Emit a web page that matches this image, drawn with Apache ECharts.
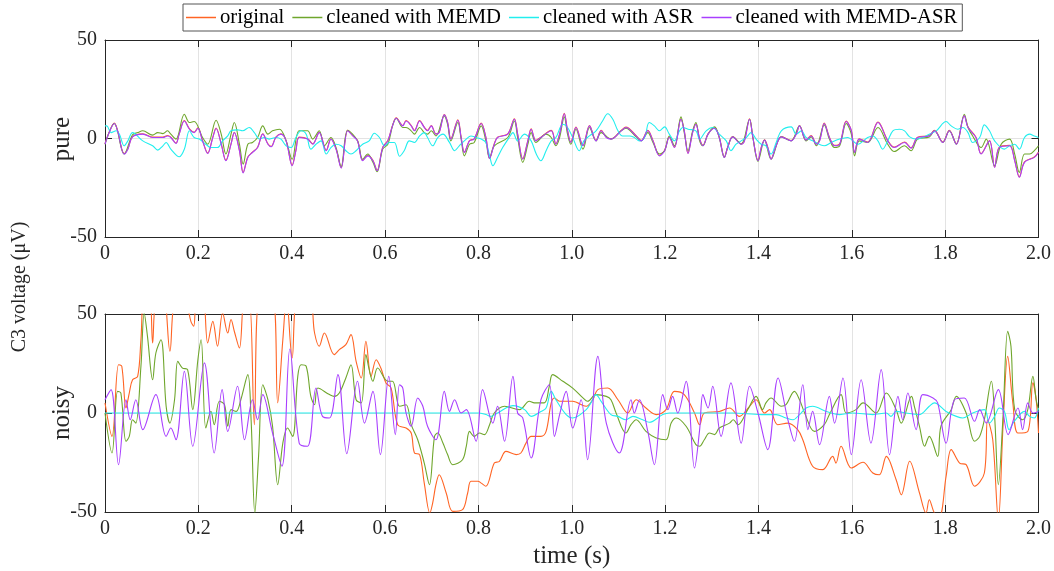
<!DOCTYPE html>
<html>
<head>
<meta charset="utf-8">
<script src="https://cdn.jsdelivr.net/npm/echarts@6/dist/echarts.min.js"></script>
<style>html,body{margin:0;padding:0;background:#fff}#c{width:1054px;height:571px}</style>
</head>
<body>
<div id="c"></div>
<script>
const seriesNames = ['original', 'cleaned with MEMD', 'cleaned with ASR', 'cleaned with MEMD-ASR'];
const panelNames = ['pure', 'noisy'];
const xTicks = [0, 0.2, 0.4, 0.6, 0.8, 1.0, 1.2, 1.4, 1.6, 1.8, 2.0];
const yTicks = [-50, 0, 50];

// ---------- pure (top) ----------
const pureMemdAsr = [[0,-2.9],[0.009,3.0],[0.020,7.6],[0.027,3.9],[0.041,-7.9],[0.049,-5.4],[0.059,0.8],[0.081,2.2],[0.102,0.5],[0.124,0.5],[0.134,1.3],[0.141,0.5],[0.152,-2.5],[0.159,2.2],[0.170,8.9],[0.181,4.7],[0.191,3.0],[0.199,5.2],[0.209,-1.2],[0.220,-7.6],[0.231,0.5],[0.238,5.1],[0.249,-2.9],[0.259,-11.3],[0.270,-2.9],[0.277,3.0],[0.288,-6.2],[0.296,-17.5],[0.306,-9.6],[0.316,-7.1],[0.327,-4.6],[0.338,2.2],[0.349,-2.9],[0.356,-4.2],[0.366,0.5],[0.377,2.2],[0.388,-1.2],[0.401,-13.8],[0.409,-6.2],[0.416,0.5],[0.434,-0.3],[0.445,-2.9],[0.459,3.0],[0.474,-6.2],[0.484,-0.3],[0.495,-5.4],[0.506,-15.0],[0.520,3.9],[0.531,1.3],[0.541,-1.2],[0.552,-11.3],[0.563,-8.8],[0.574,-11.3],[0.583,-16.4],[0.595,-4.6],[0.606,-1.2],[0.616,6.4],[0.624,10.3],[0.638,6.4],[0.645,8.9],[0.656,6.4],[0.663,3.9],[0.674,8.9],[0.684,5.6],[0.691,3.9],[0.699,6.4],[0.709,2.2],[0.716,3.0],[0.727,12.0],[0.734,8.1],[0.741,-0.3],[0.756,9.3],[0.763,0.5],[0.770,-7.1],[0.781,-1.2],[0.791,-0.3],[0.806,7.6],[0.816,0.5],[0.824,-10.1],[0.834,-2.9],[0.841,0.5],[0.863,2.2],[0.877,9.8],[0.884,2.2],[0.895,-10.5],[0.906,-1.2],[0.913,4.7],[0.923,-1.2],[0.934,0.5],[0.956,3.9],[0.966,-2.9],[0.974,2.2],[0.984,12.6],[0.991,3.9],[0.998,-2.0],[1.009,5.6],[1.024,-3.7],[1.038,6.4],[1.052,-1.2],[1.063,3.9],[1.074,0.5],[1.084,-0.3],[1.106,3.9],[1.116,5.6],[1.138,1.3],[1.149,-1.2],[1.163,3.9],[1.174,-1.2],[1.188,-8.8],[1.199,-6.2],[1.209,0.5],[1.220,-4.6],[1.234,9.8],[1.241,3.9],[1.249,-7.6],[1.259,3.0],[1.266,7.2],[1.274,-0.3],[1.281,-3.7],[1.292,2.2],[1.306,5.2],[1.316,0.5],[1.327,-9.6],[1.334,-4.6],[1.345,0.8],[1.363,-2.9],[1.370,-1.2],[1.381,9.8],[1.388,0.5],[1.399,-11.3],[1.406,-4.6],[1.413,-0.8],[1.420,-4.6],[1.427,-10.5],[1.438,-3.7],[1.449,0.8],[1.470,-1.2],[1.481,2.2],[1.488,6.4],[1.502,-0.8],[1.513,1.3],[1.524,-2.9],[1.531,-1.2],[1.541,7.6],[1.552,0.5],[1.563,-3.7],[1.574,-2.9],[1.588,8.6],[1.599,3.9],[1.606,-7.1],[1.616,-0.3],[1.634,-2.0],[1.656,8.1],[1.677,-1.2],[1.691,-4.6],[1.713,-2.0],[1.727,-4.9],[1.741,0.5],[1.766,1.3],[1.777,3.9],[1.795,-2.0],[1.809,3.9],[1.824,-2.9],[1.841,11.5],[1.849,5.6],[1.866,0.5],[1.877,-7.9],[1.895,-1.2],[1.906,-14.7],[1.916,-4.6],[1.938,-3.7],[1.949,-11.3],[1.959,-19.7],[1.970,-12.1],[1.991,-9.6],[2.0,-7.1]];

const pureOriginal = [[0,-2.6],[0.009,3.2],[0.020,7.8],[0.027,4.0],[0.041,-7.6],[0.049,-5.2],[0.059,1.0],[0.081,2.4],[0.102,0.7],[0.124,0.7],[0.134,1.5],[0.141,0.7],[0.152,-2.3],[0.159,2.4],[0.170,9.1],[0.181,4.9],[0.191,3.2],[0.199,5.4],[0.209,-1.0],[0.220,-7.4],[0.231,0.7],[0.238,5.3],[0.249,-2.7],[0.259,-11.0],[0.270,-2.7],[0.277,3.2],[0.288,-6.0],[0.296,-17.2],[0.306,-9.4],[0.316,-6.9],[0.327,-4.4],[0.338,2.4],[0.349,-2.7],[0.356,-4.0],[0.366,0.7],[0.377,2.4],[0.388,-1.0],[0.401,-13.5],[0.409,-6.0],[0.416,0.7],[0.434,-0.1],[0.445,-2.7],[0.459,3.2],[0.474,-6.0],[0.484,-0.1],[0.495,-5.2],[0.506,-14.8],[0.520,4.1],[0.531,1.5],[0.541,-1.0],[0.552,-11.0],[0.563,-8.6],[0.574,-11.0],[0.583,-16.2],[0.595,-4.4],[0.606,-1.0],[0.616,6.6],[0.624,10.5],[0.638,6.6],[0.645,9.1],[0.656,6.6],[0.663,4.1],[0.674,9.1],[0.684,5.8],[0.691,4.1],[0.699,6.6],[0.709,2.4],[0.716,3.2],[0.727,12.2],[0.734,8.3],[0.741,-0.1],[0.756,9.5],[0.763,0.7],[0.770,-6.9],[0.781,-1.0],[0.791,-0.1],[0.806,7.8],[0.816,0.7],[0.824,-9.9],[0.834,-2.7],[0.841,0.7],[0.863,2.4],[0.877,10.0],[0.884,2.4],[0.895,-10.3],[0.906,-1.0],[0.913,4.9],[0.923,-1.0],[0.934,0.7],[0.956,4.1],[0.966,-2.7],[0.974,2.4],[0.984,12.8],[0.991,4.1],[0.998,-1.8],[1.009,5.8],[1.024,-3.5],[1.038,6.6],[1.052,-1.0],[1.063,4.1],[1.074,0.7],[1.084,-0.1],[1.106,4.1],[1.116,5.8],[1.138,1.5],[1.149,-1.0],[1.163,4.1],[1.174,-1.0],[1.188,-8.6],[1.199,-6.0],[1.209,0.7],[1.220,-4.4],[1.234,10.0],[1.241,4.1],[1.249,-7.4],[1.259,3.2],[1.266,7.4],[1.274,-0.1],[1.281,-3.5],[1.292,2.4],[1.306,5.4],[1.316,0.7],[1.327,-9.4],[1.334,-4.4],[1.345,1.0],[1.363,-2.7],[1.370,-1.0],[1.381,10.0],[1.388,0.7],[1.399,-11.1],[1.406,-4.4],[1.413,-0.6],[1.420,-4.4],[1.427,-10.3],[1.438,-3.5],[1.449,1.0],[1.470,-1.0],[1.481,2.4],[1.488,6.6],[1.502,-0.6],[1.513,1.5],[1.524,-2.7],[1.531,-1.0],[1.541,7.8],[1.552,0.7],[1.563,-3.5],[1.574,-2.7],[1.588,8.8],[1.599,4.1],[1.606,-6.9],[1.616,-0.1],[1.634,-1.8],[1.656,8.3],[1.677,-1.0],[1.691,-4.4],[1.713,-1.8],[1.727,-4.7],[1.741,0.7],[1.766,1.5],[1.777,4.1],[1.795,-1.8],[1.809,4.1],[1.824,-2.7],[1.841,11.7],[1.849,5.8],[1.866,0.7],[1.877,-7.7],[1.895,-1.0],[1.906,-14.5],[1.916,-4.4],[1.938,-3.5],[1.949,-11.1],[1.959,-19.5],[1.970,-11.9],[1.991,-9.4],[2.0,-6.9]];

const pureMemd = [[0,-2.9],[0.020,7.6],[0.041,-7.9],[0.059,1.9],[0.070,3.0],[0.081,3.9],[0.102,1.7],[0.113,3.0],[0.124,2.5],[0.134,3.9],[0.141,2.2],[0.152,-0.3],[0.170,12.3],[0.181,8.1],[0.191,8.6],[0.209,0.5],[0.220,-2.9],[0.238,9.3],[0.249,2.2],[0.259,-7.9],[0.270,2.2],[0.277,8.1],[0.288,-2.9],[0.296,-13.0],[0.306,-2.9],[0.316,-2.0],[0.327,0.5],[0.338,6.4],[0.349,2.2],[0.359,3.9],[0.374,4.7],[0.388,-1.2],[0.401,-10.5],[0.416,3.9],[0.434,3.9],[0.445,-0.3],[0.459,3.9],[0.470,-3.7],[0.484,0.5],[0.495,-4.6],[0.506,-14.3],[0.520,4.2],[0.541,-1.2],[0.552,-10.5],[0.563,-7.9],[0.574,-12.1],[0.583,-16.9],[0.595,-5.4],[0.606,-2.9],[0.616,6.4],[0.624,10.3],[0.638,5.6],[0.645,5.6],[0.656,3.9],[0.663,2.2],[0.674,5.6],[0.684,3.0],[0.691,2.2],[0.699,3.9],[0.709,1.3],[0.727,11.5],[0.734,7.2],[0.741,-1.2],[0.756,8.1],[0.763,-0.3],[0.770,-8.8],[0.781,-2.9],[0.791,-2.0],[0.806,6.4],[0.816,-1.2],[0.824,-10.1],[0.834,-3.7],[0.863,0.5],[0.877,8.9],[0.884,0.5],[0.895,-12.1],[0.906,-2.9],[0.913,3.0],[0.923,-2.0],[0.945,2.2],[0.956,0.5],[0.966,-3.7],[0.974,0.5],[0.984,11.0],[0.991,2.2],[0.998,-2.9],[1.009,4.7],[1.024,-5.4],[1.038,5.6],[1.052,-1.2],[1.063,3.0],[1.084,-0.3],[1.106,3.9],[1.116,5.2],[1.138,0.8],[1.149,-1.2],[1.163,3.0],[1.174,-2.0],[1.188,-7.9],[1.199,-6.2],[1.209,1.3],[1.220,-3.7],[1.234,11.0],[1.241,3.0],[1.249,-6.2],[1.259,3.9],[1.266,8.1],[1.274,-1.2],[1.281,-3.7],[1.292,2.2],[1.306,5.9],[1.316,0.5],[1.327,-9.6],[1.334,-4.6],[1.345,0.8],[1.363,-2.9],[1.381,9.8],[1.388,0.5],[1.399,-11.6],[1.413,-0.8],[1.427,-10.5],[1.449,0.8],[1.470,-1.2],[1.488,6.4],[1.502,-1.2],[1.513,0.8],[1.524,-3.7],[1.541,6.9],[1.552,-0.3],[1.563,-4.6],[1.574,-3.7],[1.588,7.6],[1.599,2.2],[1.606,-8.8],[1.616,-1.2],[1.634,-2.0],[1.656,5.6],[1.677,-2.9],[1.691,-6.6],[1.713,-3.7],[1.727,-6.2],[1.741,-0.3],[1.766,0.8],[1.777,3.9],[1.795,-2.0],[1.809,3.9],[1.824,-2.9],[1.841,12.3],[1.849,5.6],[1.859,1.3],[1.877,-4.6],[1.888,-0.3],[1.906,-13.8],[1.920,-2.9],[1.938,-0.3],[1.949,-7.9],[1.959,-17.2],[1.970,-7.9],[1.981,-7.9],[1.991,-6.2],[2.0,-3.7]];

const pureAsr = [[0,6.4],[0.004,6.4],[0.013,3.0],[0.024,3.9],[0.031,2.2],[0.041,-3.7],[0.049,-1.2],[0.059,3.0],[0.081,-1.2],[0.102,-3.7],[0.113,-5.9],[0.124,-3.7],[0.131,-2.0],[0.141,-5.4],[0.159,-9.3],[0.170,-5.4],[0.181,3.9],[0.191,0.5],[0.202,-0.3],[0.216,-2.9],[0.227,-4.6],[0.241,-4.6],[0.252,-1.2],[0.263,1.3],[0.270,3.9],[0.284,4.4],[0.295,3.9],[0.309,5.6],[0.320,3.0],[0.331,-0.3],[0.341,0.5],[0.352,-0.3],[0.366,0.5],[0.377,-0.3],[0.388,-3.7],[0.399,-4.6],[0.409,0.5],[0.420,3.9],[0.431,2.2],[0.441,-5.4],[0.452,-2.9],[0.463,-1.2],[0.474,-7.9],[0.484,-4.6],[0.495,-2.9],[0.506,-3.7],[0.516,-6.2],[0.527,-7.9],[0.538,-6.2],[0.552,-2.9],[0.566,-1.2],[0.577,2.7],[0.588,0.5],[0.599,-3.7],[0.609,-2.0],[0.620,-2.0],[0.631,-9.0],[0.641,-6.2],[0.652,-1.2],[0.663,-2.0],[0.674,1.3],[0.684,3.0],[0.691,0.5],[0.702,-3.7],[0.713,0.5],[0.724,2.2],[0.738,-2.0],[0.749,-6.2],[0.759,-3.7],[0.774,-0.3],[0.784,1.3],[0.795,0.5],[0.806,-0.3],[0.816,-2.0],[0.824,-8.8],[0.831,-13.8],[0.841,-9.6],[0.852,-4.6],[0.866,0.5],[0.874,3.0],[0.884,-1.2],[0.899,2.2],[0.913,-1.2],[0.924,-7.9],[0.934,-11.3],[0.945,-6.2],[0.956,-1.2],[0.966,0.5],[0.981,7.2],[0.991,5.6],[1.002,0.5],[1.016,-6.2],[1.026,-1.2],[1.038,1.3],[1.052,3.9],[1.066,8.9],[1.077,12.6],[1.088,9.8],[1.099,3.9],[1.109,1.3],[1.124,1.3],[1.134,0.5],[1.145,-1.2],[1.156,0.5],[1.166,8.1],[1.177,6.4],[1.188,3.9],[1.199,5.9],[1.209,2.2],[1.220,-1.2],[1.231,3.9],[1.238,5.6],[1.249,4.7],[1.266,3.9],[1.274,-0.3],[1.288,3.9],[1.302,5.6],[1.316,2.2],[1.331,-1.2],[1.341,-6.2],[1.352,-2.9],[1.363,-1.2],[1.374,0.5],[1.384,3.0],[1.395,-0.3],[1.406,-2.9],[1.416,-3.7],[1.427,-7.9],[1.438,-2.0],[1.449,3.9],[1.470,5.9],[1.481,2.2],[1.492,3.9],[1.502,0.5],[1.516,-1.2],[1.541,-3.7],[1.556,-2.0],[1.574,-0.3],[1.591,0.5],[1.613,-2.9],[1.634,0.5],[1.645,1.3],[1.656,-1.2],[1.666,-5.4],[1.677,-1.2],[1.688,3.9],[1.702,4.7],[1.713,3.9],[1.724,0.8],[1.738,-0.3],[1.752,0.5],[1.766,2.2],[1.781,3.9],[1.802,8.6],[1.813,6.4],[1.827,4.7],[1.838,5.6],[1.849,3.0],[1.859,-2.0],[1.874,0.5],[1.884,6.9],[1.895,3.9],[1.906,-1.2],[1.927,-5.4],[1.938,-3.7],[1.949,-2.9],[1.959,-5.4],[1.970,0.5],[1.981,2.2],[1.991,1.3],[2.0,0.5]];

// ---------- noisy (bottom) ----------
const noisyOriginal = [[0,5.1],[0.015,-11.8],[0.029,24.4],[0.036,23.6],[0.045,2.5],[0.052,10.1],[0.059,16.8],[0.070,18.5],[0.077,37.0],[0.084,60],[0.095,60],[0.102,35.4],[0.109,58],[0.124,62],[0.139,31.2],[0.149,58],[0.166,62],[0.184,46.3],[0.190,43.8],[0.196,58],[0.209,62],[0.220,35.4],[0.231,46.3],[0.241,33.7],[0.252,50.5],[0.263,40.4],[0.270,47.2],[0.277,41.3],[0.288,32.8],[0.299,58],[0.309,58],[0.320,-5.9],[0.331,58],[0.359,58],[0.370,5.1],[0.381,37],[0.389,58],[0.401,27.8],[0.413,58],[0.438,58],[0.449,40.4],[0.459,33.7],[0.470,40.4],[0.491,29.5],[0.502,32],[0.516,34.5],[0.527,39.6],[0.538,26.1],[0.549,17.7],[0.559,36.2],[0.570,18.5],[0.581,26.9],[0.591,22.7],[0.602,15.2],[0.613,12.6],[0.627,-5.9],[0.645,-7.6],[0.656,-10.1],[0.663,-20.2],[0.674,-21.0],[0.684,-35.4],[0.696,-50.5],[0.702,-45.5],[0.709,-36.2],[0.716,-31.2],[0.731,-40.4],[0.745,-49.7],[0.766,-48.8],[0.777,-40.4],[0.784,-34.5],[0.799,-34.5],[0.806,-35.4],[0.816,-37.0],[0.834,-25.3],[0.845,-24.4],[0.859,-19.4],[0.881,-21.0],[0.891,-20.2],[0.902,-15.2],[0.913,-11.8],[0.934,-11.8],[0.945,-9.3],[0.956,5.1],[0.963,7.6],[0.974,5.9],[1.002,5.9],[1.031,3.4],[1.045,6.7],[1.056,11.8],[1.077,12.6],[1.099,6.7],[1.120,0],[1.138,6.7],[1.159,2.5],[1.181,-0.8],[1.202,1.7],[1.220,10.9],[1.241,9.3],[1.263,0],[1.274,-5.9],[1.284,0],[1.316,0.8],[1.338,2.5],[1.359,-1.7],[1.381,3.4],[1.395,6.7],[1.413,0],[1.424,1.7],[1.441,-5.9],[1.463,-5.1],[1.484,-8.4],[1.495,-13.5],[1.516,-26.9],[1.538,-28.6],[1.559,-21.9],[1.566,-25.3],[1.577,-16.8],[1.599,-27.8],[1.624,-24.9],[1.645,-30.3],[1.659,-31.2],[1.674,-21.9],[1.695,-33.7],[1.706,-41.3],[1.724,-24.4],[1.745,-40.4],[1.759,-50.5],[1.766,-43.8],[1.777,-50.5],[1.788,-52],[1.802,-32.0],[1.813,-18.5],[1.831,-25.3],[1.845,-26.1],[1.863,-37.0],[1.884,-30.3],[1.891,-3.4],[1.902,-13.5],[1.914,-54],[1.924,-6.7],[1.934,28.6],[1.945,5.1],[1.956,-10.1],[1.977,-9.3],[1.988,15.2],[1.995,6.7],[2.0,-10.1]];

const noisyMemd = [[0,0],[0.015,-20.2],[0.027,10.9],[0.034,10.1],[0.045,-14.3],[0.052,-11.8],[0.059,-3.4],[0.066,-5.1],[0.077,23.6],[0.084,50.5],[0.091,38.7],[0.102,16.8],[0.109,30.3],[0.120,37.0],[0.131,3.4],[0.139,-5.1],[0.149,6.7],[0.156,26.1],[0.166,22.7],[0.177,21.9],[0.188,1.7],[0.199,26.9],[0.206,37.0],[0.216,-7.6],[0.227,0.8],[0.234,-5.9],[0.245,5.9],[0.256,4.2],[0.263,-6.7],[0.270,1.7],[0.281,0.8],[0.291,6.7],[0.306,19.4],[0.313,-3.4],[0.321,-50.5],[0.329,-21.9],[0.338,14.3],[0.349,6.7],[0.359,-6.7],[0.370,-36.2],[0.381,-15.2],[0.391,-7.6],[0.402,-11.8],[0.413,18.5],[0.420,24.4],[0.431,23.6],[0.441,8.4],[0.449,4.2],[0.456,12.6],[0.481,9.3],[0.491,8.4],[0.502,10.1],[0.516,17.7],[0.527,24.4],[0.538,6.7],[0.549,5.1],[0.559,29.5],[0.566,21.9],[0.574,16.0],[0.584,22.7],[0.606,16.0],[0.616,16.0],[0.627,5.1],[0.631,3.4],[0.645,4.2],[0.656,-5.9],[0.670,-13.5],[0.684,-25.3],[0.695,-36.2],[0.706,-11.8],[0.713,-10.1],[0.724,-15.2],[0.734,-21.0],[0.745,-26.1],[0.766,-23.6],[0.774,-16.8],[0.781,-9.3],[0.791,-11.8],[0.802,-10.1],[0.813,-10.9],[0.824,-5.9],[0.834,0],[0.856,3.4],[0.888,1.7],[0.909,5.9],[0.920,5.1],[0.941,5.1],[0.952,13.5],[0.959,19.4],[0.981,16.0],[1.002,12.6],[1.024,7.6],[1.034,5.9],[1.052,9.3],[1.074,8.4],[1.084,6.7],[1.095,0],[1.116,-10.1],[1.127,-5.9],[1.138,-3.4],[1.159,-9.3],[1.181,-12.6],[1.202,-13.5],[1.213,-5.1],[1.224,-2.5],[1.245,-6.7],[1.266,-16.0],[1.274,-16.8],[1.284,-13.5],[1.295,-10.1],[1.306,-10.9],[1.316,-7.6],[1.338,-5.1],[1.346,-3.4],[1.356,-5.9],[1.377,1.7],[1.395,8.4],[1.409,1.7],[1.416,5.1],[1.427,7.6],[1.449,3.4],[1.459,4.2],[1.477,10.9],[1.488,6.7],[1.499,0],[1.520,-9.3],[1.541,-5.9],[1.552,-0.8],[1.577,9.3],[1.588,0],[1.609,1.7],[1.624,5.1],[1.652,0],[1.674,10.1],[1.695,1.7],[1.706,-5.1],[1.728,8.4],[1.734,3.4],[1.745,-6.7],[1.756,-16.8],[1.766,-11.8],[1.784,-21.9],[1.791,-6.7],[1.813,1.7],[1.824,8.4],[1.845,0],[1.863,-14.3],[1.874,-11.8],[1.884,-3.4],[1.899,16.0],[1.906,-1.7],[1.914,-36.2],[1.924,-1.7],[1.934,41.3],[1.941,33.7],[1.949,1.7],[1.966,-3.4],[1.977,1.7],[1.988,18.5],[1.995,6.7],[2.0,1.7]];

const noisyAsr = [[0,0],[0.2,0],[0.4,0],[0.6,0],[0.78,0],[0.800,0],[0.816,-0.8],[0.827,-1.7],[0.841,0],[0.859,2.5],[0.874,3.7],[0.899,1.7],[0.913,-1.7],[0.934,0.8],[0.945,2.5],[0.956,10.9],[0.966,6.7],[0.988,-0.8],[1.002,-2.5],[1.031,1.7],[1.041,5.1],[1.052,9.3],[1.063,5.9],[1.084,-0.8],[1.099,-1.7],[1.116,-3.4],[1.131,-1.7],[1.152,-3.4],[1.166,-4.7],[1.195,-0.8],[1.209,0],[1.345,0],[1.406,-0.8],[1.438,-0.8],[1.459,-2.5],[1.474,-3.4],[1.488,-0.8],[1.502,2.5],[1.516,3.4],[1.545,0.8],[1.574,-0.8],[1.602,0],[1.645,-0.8],[1.674,0],[1.684,-1.7],[1.695,0.8],[1.716,0],[1.745,-0.8],[1.766,3.4],[1.777,5.1],[1.802,0.8],[1.824,-1.7],[1.838,-2.5],[1.859,0],[1.884,1.7],[1.895,-5.1],[1.906,-1.7],[1.916,2.5],[1.927,0.8],[1.937,-8.4],[1.948,-4.2],[1.970,0.8],[1.981,-1.7],[1.991,-2.5],[2.0,2.5]];

const noisyMemdAsr = [[0,6.7],[0.013,11.8],[0.029,-26.1],[0.045,6.7],[0.054,-3.4],[0.066,6.7],[0.081,-8.4],[0.109,9.3],[0.131,-11.8],[0.141,-7.6],[0.152,-13.5],[0.170,21.0],[0.188,-16.8],[0.213,25.3],[0.234,-20.2],[0.251,11.8],[0.263,-9.3],[0.284,13.5],[0.299,-13.5],[0.316,6.7],[0.327,-3.4],[0.338,9.3],[0.359,-10.1],[0.379,-26.9],[0.396,32.3],[0.416,-15.2],[0.434,-16.8],[0.452,12.6],[0.466,-1.7],[0.481,-2.5],[0.499,19.4],[0.518,-20.5],[0.541,16.0],[0.556,-5.1],[0.574,10.9],[0.590,-21.0],[0.608,18.5],[0.622,-10.9],[0.631,14.3],[0.638,12.6],[0.645,0],[0.656,-6.7],[0.670,7.6],[0.681,3.4],[0.691,-6.7],[0.709,-13.5],[0.727,10.9],[0.738,0.8],[0.749,6.7],[0.763,0],[0.774,1.7],[0.795,-14.3],[0.809,11.8],[0.831,-5.1],[0.841,3.4],[0.856,-14.3],[0.874,18.5],[0.884,0],[0.895,-2.5],[0.913,-22.7],[0.934,6.7],[0.952,14.3],[0.963,-11.8],[0.974,-0.8],[0.988,10.9],[1.002,-7.6],[1.020,6.7],[1.034,-23.6],[1.056,28.6],[1.074,-5.1],[1.102,-20.2],[1.127,6.7],[1.134,0],[1.145,6.7],[1.163,-9.3],[1.177,-26.1],[1.195,9.3],[1.206,1.7],[1.216,8.4],[1.227,0],[1.245,16.0],[1.263,-27.8],[1.274,-8.4],[1.281,9.3],[1.292,2.5],[1.302,13.5],[1.320,-11.8],[1.341,15.2],[1.363,-15.2],[1.381,13.5],[1.399,0],[1.420,-18.5],[1.442,17.7],[1.463,-3.4],[1.477,-14.3],[1.495,14.3],[1.506,-8.4],[1.516,0.8],[1.531,-16.0],[1.552,8.4],[1.563,-5.1],[1.581,17.7],[1.599,-21.0],[1.620,16.8],[1.641,-15.2],[1.663,21.9],[1.681,-21.0],[1.699,8.4],[1.709,-3.4],[1.720,10.1],[1.738,-8.4],[1.752,9.3],[1.774,7.6],[1.784,5.1],[1.802,-15.2],[1.820,6.7],[1.841,7.6],[1.863,-4.2],[1.874,1.7],[1.888,-5.1],[1.914,11.8],[1.935,-10.9],[1.956,2.5],[1.966,-8.4],[1.977,5.1],[1.988,0],[2.0,0.8]];

const panels = [
  [pureOriginal, pureMemd, pureAsr, pureMemdAsr],
  [noisyOriginal, noisyMemd, noisyAsr, noisyMemdAsr]
];

const colors = ['#FF6424', '#6FA62C', '#22EEEE', '#A83FFF'];
const FONT = '"Liberation Serif", "DejaVu Serif", serif';
const AX = '#262626';

const chart = echarts.init(document.getElementById('c'), null, {renderer: 'canvas'});

const grids = [
  {left: 105, right: 14, top: 40, height: 197},
  {left: 105, right: 14, top: 314, height: 198}
];

const xAxes = [], yAxes = [], series = [];
grids.forEach((g, gi) => {
  const common = {
    gridIndex: gi, type: 'value', min: xTicks[0], max: xTicks[xTicks.length - 1], interval: 0.2,
    axisLine: {show: true, onZero: false, lineStyle: {color: AX, width: 1}},
    axisTick: {show: true, inside: true, length: 7, lineStyle: {color: AX}},
  };
  xAxes.push(Object.assign({}, common, {
    position: 'bottom',
    axisLabel: {show: true, fontFamily: FONT, fontSize: 20, color: AX, margin: 7,
      formatter: v => (Math.abs(v) < 1e-9 ? '0' : v.toFixed(1))},
    splitLine: {show: true, lineStyle: {color: '#e3e3e3', width: 1}},
    name: gi === 1 ? 'time (s)' : '', nameLocation: 'middle', nameGap: 32,
    nameTextStyle: {fontFamily: FONT, fontSize: 25, color: AX}
  }));
  xAxes.push(Object.assign({}, common, {
    position: 'top', axisLabel: {show: false}, splitLine: {show: false}
  }));
  const ycommon = {
    gridIndex: gi, type: 'value', min: yTicks[0], max: yTicks[yTicks.length - 1], interval: 50,
    axisLine: {show: true, onZero: false, lineStyle: {color: AX, width: 1}},
    axisTick: {show: true, inside: true, length: 7, lineStyle: {color: AX}},
  };
  yAxes.push(Object.assign({}, ycommon, {
    position: 'left',
    axisLabel: {show: true, fontFamily: FONT, fontSize: 20, color: AX, margin: 8},
    splitLine: {show: true, lineStyle: {color: '#e3e3e3', width: 1}}
  }));
  yAxes.push(Object.assign({}, ycommon, {
    position: 'right', axisLabel: {show: false}, splitLine: {show: false}
  }));
  panels[gi].forEach((data, si) => {
    series.push({
      name: seriesNames[si], type: 'line', xAxisIndex: gi * 2, yAxisIndex: gi * 2,
      data: data, showSymbol: false, symbol: 'none', smooth: 0.35, clip: true,
      lineStyle: {color: colors[si], width: 1.1}, itemStyle: {color: colors[si]},
      emphasis: {disabled: true}, z: 2 + si
    });
  });
});

const textEl = (txt, x, y, size) => ({
  type: 'text', x: x, y: y, rotation: Math.PI / 2,
  style: {text: txt, font: size + 'px ' + FONT, fill: AX, textAlign: 'center', textVerticalAlign: 'middle'}
});

chart.setOption({
  animation: false,
  backgroundColor: '#fff',
  grid: grids,
  xAxis: xAxes,
  yAxis: yAxes,
  legend: {
    data: seriesNames.map((n, i) => ({name: n, itemStyle: {color: colors[i]}})),
    top: 4, left: 183,
    backgroundColor: '#fff', borderColor: '#555', borderWidth: 1,
    padding: [3, 5, 3, 3], itemGap: 8, itemWidth: 30, itemHeight: 1.5,
    textStyle: {fontFamily: FONT, fontSize: 20.7, color: '#000', padding: [0, 0, 0, -1]},
    icon: 'rect'
  },
  graphic: [
    textEl('C3 voltage (μV)', 20, 287, 20),
    textEl(panelNames[0], 62, 139, 25),
    textEl(panelNames[1], 62, 413, 25)
  ],
  series: series
});
</script>
</body>
</html>
